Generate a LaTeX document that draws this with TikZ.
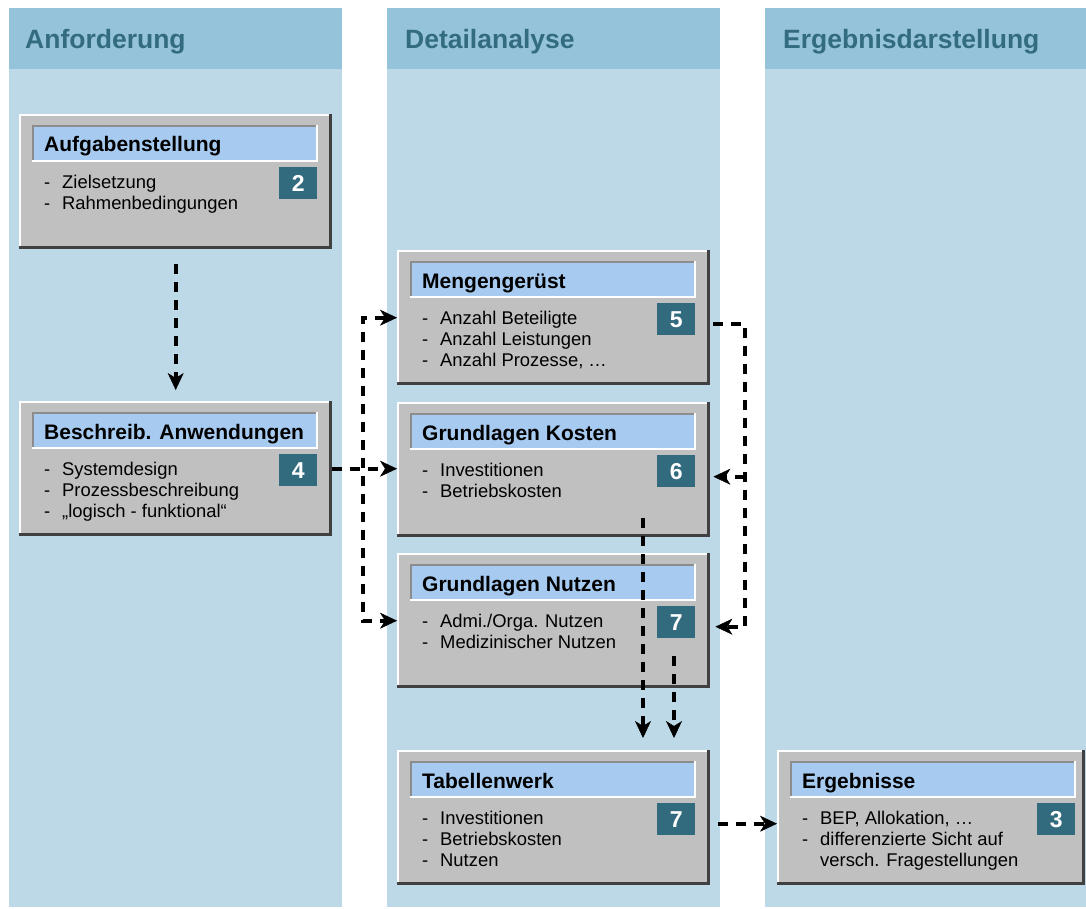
\documentclass[tikz,border=0pt]{standalone}
\usepackage{fontspec}
\setmainfont{Liberation Sans}
\usetikzlibrary{arrows.meta,calc}

\definecolor{headband}{HTML}{94C3DA}
\definecolor{colbody}{HTML}{BDD9E7}
\definecolor{headtext}{HTML}{336B80}
\definecolor{boxgray}{HTML}{C0C0C0}
\definecolor{boxshade}{HTML}{404040}
\definecolor{titleblue}{HTML}{A6CAF0}
\definecolor{titleedge}{HTML}{8C8C8C}
\definecolor{numteal}{HTML}{336B7E}

% list lines inside a stage box
\newcommand\bitem[1]{\makebox[18pt][l]{-}#1}
\newcommand\bcont[1]{\hspace*{18pt}#1}

\tikzset{
  >={Stealth[length=17pt,width=16pt,inset=5pt,line width=0.5pt]},
  stagebox/.style={rectangle, fill=boxgray, minimum height=135pt, inner sep=0pt},
  stagebar/.style={rectangle, fill=titleblue, minimum width=286pt, minimum height=37pt, inner sep=0pt},
  stagetitle/.style={inner sep=0pt, font=\fontsize{21}{24}\selectfont\bfseries},
  stagenum/.style={rectangle, fill=numteal, minimum width=38pt, minimum height=32pt, inner sep=0pt,
    text=white, font=\fontsize{23}{26}\selectfont\bfseries},
  stageitems/.style={inner sep=0pt, font=\fontsize{18.4}{21}\selectfont},
  colhead/.style={anchor=base west, inner sep=0pt, text=headtext, font=\fontsize{26.5}{30}\selectfont\bfseries},
  conn/.style={line width=3.6pt, dash pattern=on 10pt off 8pt, ->},
  connboth/.style={line width=3.6pt, dash pattern=on 10pt off 8pt, <->},
}

% #1 width, #2 name, #3 x, #4 y (top left), #5 title, #6 number, #7 list
\newcommand\stage[7][313]{%
  \node[stagebox, minimum width=#1pt, anchor=north west] (#2) at (#3,#4) {};
  \draw[white, line width=2pt] ([xshift=1pt]#2.south west) -- ([xshift=1pt,yshift=-1pt]#2.north west) -- ([yshift=-1pt]#2.north east);
  \draw[boxshade, line width=3pt] ([yshift=1.5pt]#2.south west) -- ([xshift=-1.5pt,yshift=1.5pt]#2.south east) -- ([xshift=-1.5pt]#2.north east);
  \node[stagebar, anchor=north west] (#2-t) at ([xshift=13pt,yshift=-11pt]#2.north west) {};
  \draw[titleedge, line width=2pt] ([xshift=1pt]#2-t.south west) -- ([xshift=1pt,yshift=-1pt]#2-t.north west) -- ([yshift=-1pt]#2-t.north east);
  \draw[white, line width=2pt] ([yshift=1pt]#2-t.south west) -- ([xshift=-1pt,yshift=1pt]#2-t.south east) -- ([xshift=-1pt]#2-t.north east);
  \node[stagetitle, anchor=base west] (#2-tt) at ([xshift=12pt,yshift=-27pt]#2-t.north west) {#5};
  \node[stagenum, anchor=north west] (#2-n) at ([xshift=260pt,yshift=-53pt]#2.north west) {#6};
  \node[stageitems, anchor=base west] (#2-i) at ([xshift=25pt,yshift=-74.5pt]#2.north west)
    {\begin{tabular}[t]{@{}l@{}}#7\end{tabular}};
}

\begin{document}
\begin{tikzpicture}[x=1pt, y=-1pt]
  \useasboundingbox (0,0) rectangle (1086,909);
  \fill[white] (0,0) rectangle (1086,909);

  % three columns with header bands
  \fill[colbody] (9,69) rectangle (342,907);
  \fill[headband] (9,8) rectangle (342,69);
  \fill[colbody] (387,69) rectangle (720,907);
  \fill[headband] (387,8) rectangle (720,69);
  \fill[colbody] (765,69) rectangle (1086,907);
  \fill[headband] (765,8) rectangle (1086,69);

  \node[colhead] (h1) at (25,48.5) {Anforderung};
  \node[colhead] (h2) at (405,48.5) {Detailanalyse};
  \node[colhead] (h3) at (783,48.5) {Ergebnisdarstellung};

  % stages
  \stage{auf}{19}{114}{Aufgabenstellung}{2}{\bitem{Zielsetzung}\\ \bitem{Rahmenbedingungen}}
  \stage{beschr}{19}{401}{Beschreib. Anwendungen}{4}{\bitem{Systemdesign}\\ \bitem{Prozessbeschreibung}\\ \bitem{„logisch - funktional“}}
  \stage{menge}{397}{250}{Mengengerüst}{5}{\bitem{Anzahl Beteiligte}\\ \bitem{Anzahl Leistungen}\\ \bitem{Anzahl Prozesse, …}}
  \stage{kosten}{397}{402}{Grundlagen Kosten}{6}{\bitem{Investitionen}\\ \bitem{Betriebskosten}}
  \stage{nutzen}{397}{553}{Grundlagen Nutzen}{7}{\bitem{Admi./Orga. Nutzen}\\ \bitem{Medizinischer Nutzen}}
  \stage{tabelle}{397}{750}{Tabellenwerk}{7}{\bitem{Investitionen}\\ \bitem{Betriebskosten}\\ \bitem{Nutzen}}
  \stage[308]{ergeb}{777}{750}{Ergebnisse}{3}{\bitem{BEP, Allokation, …}\\ \bitem{differenzierte Sicht auf}\\ \bcont{versch. Fragestellungen}}

  % connectors
  \draw[conn] ([yshift=-15pt]auf.south) -- ([yshift=11pt]beschr.north);

  \coordinate (jl) at (363,0);
  \draw[conn] (beschr.east) -- (beschr.east -| kosten.west);
  \draw[connboth] (menge.west) -- (jl |- menge.west) -- (jl |- nutzen.west) -- (nutzen.west);

  \coordinate (jr) at (745,0);
  \coordinate (mOut) at ([xshift=3pt,yshift=-6pt]menge.east);
  \coordinate (kIn) at ([xshift=3pt,yshift=-7pt]kosten.east);
  \coordinate (nIn) at ([xshift=5pt,yshift=-6pt]nutzen.east);
  \draw[conn] (mOut) -- (mOut -| jr) -- (nIn -| jr) -- (nIn);
  \draw[conn] (kIn -| jr) -- (kIn);

  \draw[conn] ([xshift=246pt,yshift=-116pt]kosten.north west) -- ([xshift=246pt,yshift=12pt]tabelle.north west);
  \draw[conn] ([xshift=277pt,yshift=-103pt]nutzen.north west) -- ([xshift=277pt,yshift=12pt]tabelle.north west);

  \coordinate (tOut) at ([xshift=8pt,yshift=-6pt]tabelle.east);
  \draw[conn] (tOut) -- (tOut -| ergeb.west);
\end{tikzpicture}
\end{document}
